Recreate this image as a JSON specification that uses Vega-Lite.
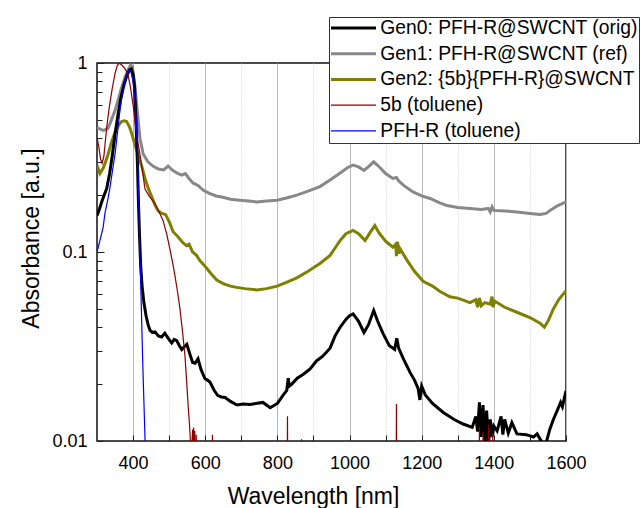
{
  "$schema": "https://vega.github.io/schema/vega-lite/v6.json",
  "autosize": "none",
  "width": 469,
  "height": 378,
  "padding": {"left": 97, "top": 63, "right": 76, "bottom": 67},
  "config": {
    "font": "Liberation Sans",
    "view": {"stroke": "#111", "strokeWidth": 1.5},
    "axis": {"domain": false, "labelFontSize": 18, "labelColor": "#000", "titleFontSize": 23, "titleColor": "#000", "titleFontWeight": "normal", "tickColor": "#222", "labelFont": "Liberation Sans", "titleFont": "Liberation Sans"}
  },
  "data": {"values": [
    {"s":"Gen1","nm":300,"a":0.457},{"s":"Gen1","nm":310,"a":0.445},{"s":"Gen1","nm":318,"a":0.44},{"s":"Gen1","nm":330,"a":0.45},{"s":"Gen1","nm":340,"a":0.5},{"s":"Gen1","nm":350,"a":0.56},{"s":"Gen1","nm":360,"a":0.65},{"s":"Gen1","nm":368,"a":0.74},{"s":"Gen1","nm":378,"a":0.84},{"s":"Gen1","nm":386,"a":0.92},{"s":"Gen1","nm":393,"a":0.975},{"s":"Gen1","nm":398,"a":0.96},{"s":"Gen1","nm":405,"a":0.76},{"s":"Gen1","nm":412,"a":0.55},{"s":"Gen1","nm":419,"a":0.4},{"s":"Gen1","nm":428,"a":0.33},{"s":"Gen1","nm":441,"a":0.3},{"s":"Gen1","nm":455,"a":0.285},{"s":"Gen1","nm":470,"a":0.275},{"s":"Gen1","nm":485,"a":0.272},{"s":"Gen1","nm":497,"a":0.285},{"s":"Gen1","nm":508,"a":0.272},{"s":"Gen1","nm":521,"a":0.262},{"s":"Gen1","nm":535,"a":0.255},{"s":"Gen1","nm":545,"a":0.26},{"s":"Gen1","nm":555,"a":0.245},{"s":"Gen1","nm":566,"a":0.232},{"s":"Gen1","nm":580,"a":0.225},{"s":"Gen1","nm":595,"a":0.212},{"s":"Gen1","nm":610,"a":0.205},{"s":"Gen1","nm":630,"a":0.198},{"s":"Gen1","nm":649,"a":0.195},{"s":"Gen1","nm":670,"a":0.19},{"s":"Gen1","nm":696,"a":0.188},{"s":"Gen1","nm":720,"a":0.186},{"s":"Gen1","nm":743,"a":0.184},{"s":"Gen1","nm":770,"a":0.186},{"s":"Gen1","nm":799,"a":0.188},{"s":"Gen1","nm":825,"a":0.193},{"s":"Gen1","nm":854,"a":0.2},{"s":"Gen1","nm":885,"a":0.21},{"s":"Gen1","nm":918,"a":0.222},{"s":"Gen1","nm":945,"a":0.24},{"s":"Gen1","nm":974,"a":0.262},{"s":"Gen1","nm":995,"a":0.28},{"s":"Gen1","nm":1010,"a":0.288},{"s":"Gen1","nm":1025,"a":0.282},{"s":"Gen1","nm":1040,"a":0.27},{"s":"Gen1","nm":1052,"a":0.282},{"s":"Gen1","nm":1067,"a":0.3},{"s":"Gen1","nm":1080,"a":0.285},{"s":"Gen1","nm":1100,"a":0.26},{"s":"Gen1","nm":1120,"a":0.245},{"s":"Gen1","nm":1130,"a":0.248},{"s":"Gen1","nm":1136,"a":0.238},{"s":"Gen1","nm":1150,"a":0.225},{"s":"Gen1","nm":1176,"a":0.208},{"s":"Gen1","nm":1200,"a":0.198},{"s":"Gen1","nm":1223,"a":0.192},{"s":"Gen1","nm":1250,"a":0.182},{"s":"Gen1","nm":1270,"a":0.176},{"s":"Gen1","nm":1300,"a":0.172},{"s":"Gen1","nm":1334,"a":0.17},{"s":"Gen1","nm":1365,"a":0.168},{"s":"Gen1","nm":1385,"a":0.17},{"s":"Gen1","nm":1390,"a":0.163},{"s":"Gen1","nm":1395,"a":0.173},{"s":"Gen1","nm":1400,"a":0.166},{"s":"Gen1","nm":1430,"a":0.165},{"s":"Gen1","nm":1464,"a":0.163},{"s":"Gen1","nm":1500,"a":0.16},{"s":"Gen1","nm":1528,"a":0.158},{"s":"Gen1","nm":1545,"a":0.16},{"s":"Gen1","nm":1556,"a":0.166},{"s":"Gen1","nm":1575,"a":0.175},{"s":"Gen1","nm":1600,"a":0.184},

    {"s":"Gen2","nm":300,"a":0.288},{"s":"Gen2","nm":308,"a":0.26},{"s":"Gen2","nm":318,"a":0.28},{"s":"Gen2","nm":330,"a":0.325},{"s":"Gen2","nm":340,"a":0.38},{"s":"Gen2","nm":350,"a":0.43},{"s":"Gen2","nm":360,"a":0.47},{"s":"Gen2","nm":368,"a":0.49},{"s":"Gen2","nm":375,"a":0.495},{"s":"Gen2","nm":382,"a":0.49},{"s":"Gen2","nm":390,"a":0.46},{"s":"Gen2","nm":396,"a":0.425},{"s":"Gen2","nm":405,"a":0.37},{"s":"Gen2","nm":414,"a":0.325},{"s":"Gen2","nm":425,"a":0.28},{"s":"Gen2","nm":433,"a":0.245},{"s":"Gen2","nm":443,"a":0.215},{"s":"Gen2","nm":452,"a":0.195},{"s":"Gen2","nm":462,"a":0.175},{"s":"Gen2","nm":470,"a":0.165},{"s":"Gen2","nm":480,"a":0.16},{"s":"Gen2","nm":490,"a":0.158},{"s":"Gen2","nm":500,"a":0.145},{"s":"Gen2","nm":511,"a":0.128},{"s":"Gen2","nm":525,"a":0.12},{"s":"Gen2","nm":538,"a":0.112},{"s":"Gen2","nm":548,"a":0.108},{"s":"Gen2","nm":555,"a":0.11},{"s":"Gen2","nm":565,"a":0.1},{"s":"Gen2","nm":576,"a":0.096},{"s":"Gen2","nm":585,"a":0.09},{"s":"Gen2","nm":595,"a":0.086},{"s":"Gen2","nm":604,"a":0.082},{"s":"Gen2","nm":618,"a":0.076},{"s":"Gen2","nm":632,"a":0.071},{"s":"Gen2","nm":650,"a":0.068},{"s":"Gen2","nm":670,"a":0.066},{"s":"Gen2","nm":687,"a":0.065},{"s":"Gen2","nm":710,"a":0.064},{"s":"Gen2","nm":743,"a":0.063},{"s":"Gen2","nm":770,"a":0.064},{"s":"Gen2","nm":799,"a":0.066},{"s":"Gen2","nm":825,"a":0.069},{"s":"Gen2","nm":854,"a":0.073},{"s":"Gen2","nm":885,"a":0.079},{"s":"Gen2","nm":918,"a":0.087},{"s":"Gen2","nm":946,"a":0.096},{"s":"Gen2","nm":960,"a":0.105},{"s":"Gen2","nm":974,"a":0.115},{"s":"Gen2","nm":990,"a":0.125},{"s":"Gen2","nm":1010,"a":0.13},{"s":"Gen2","nm":1025,"a":0.125},{"s":"Gen2","nm":1043,"a":0.115},{"s":"Gen2","nm":1055,"a":0.125},{"s":"Gen2","nm":1070,"a":0.138},{"s":"Gen2","nm":1082,"a":0.126},{"s":"Gen2","nm":1100,"a":0.114},{"s":"Gen2","nm":1120,"a":0.106},{"s":"Gen2","nm":1128,"a":0.11},{"s":"Gen2","nm":1130,"a":0.095},{"s":"Gen2","nm":1133,"a":0.113},{"s":"Gen2","nm":1137,"a":0.098},{"s":"Gen2","nm":1140,"a":0.104},{"s":"Gen2","nm":1160,"a":0.09},{"s":"Gen2","nm":1180,"a":0.079},{"s":"Gen2","nm":1204,"a":0.07},{"s":"Gen2","nm":1230,"a":0.066},{"s":"Gen2","nm":1250,"a":0.062},{"s":"Gen2","nm":1278,"a":0.058},{"s":"Gen2","nm":1300,"a":0.057},{"s":"Gen2","nm":1334,"a":0.054},{"s":"Gen2","nm":1350,"a":0.056},{"s":"Gen2","nm":1355,"a":0.051},{"s":"Gen2","nm":1360,"a":0.057},{"s":"Gen2","nm":1365,"a":0.052},{"s":"Gen2","nm":1375,"a":0.054},{"s":"Gen2","nm":1390,"a":0.053},{"s":"Gen2","nm":1395,"a":0.058},{"s":"Gen2","nm":1398,"a":0.051},{"s":"Gen2","nm":1402,"a":0.055},{"s":"Gen2","nm":1430,"a":0.051},{"s":"Gen2","nm":1464,"a":0.048},{"s":"Gen2","nm":1500,"a":0.045},{"s":"Gen2","nm":1528,"a":0.042},{"s":"Gen2","nm":1540,"a":0.04},{"s":"Gen2","nm":1550,"a":0.043},{"s":"Gen2","nm":1565,"a":0.05},{"s":"Gen2","nm":1580,"a":0.056},{"s":"Gen2","nm":1600,"a":0.0625},

    {"s":"Gen0","nm":300,"a":0.156},{"s":"Gen0","nm":305,"a":0.165},{"s":"Gen0","nm":313,"a":0.184},{"s":"Gen0","nm":320,"a":0.2},{"s":"Gen0","nm":327,"a":0.217},{"s":"Gen0","nm":335,"a":0.26},{"s":"Gen0","nm":342,"a":0.32},{"s":"Gen0","nm":350,"a":0.42},{"s":"Gen0","nm":358,"a":0.53},{"s":"Gen0","nm":366,"a":0.65},{"s":"Gen0","nm":375,"a":0.77},{"s":"Gen0","nm":383,"a":0.86},{"s":"Gen0","nm":390,"a":0.92},{"s":"Gen0","nm":395,"a":0.93},{"s":"Gen0","nm":400,"a":0.87},{"s":"Gen0","nm":404,"a":0.75},{"s":"Gen0","nm":408,"a":0.5},{"s":"Gen0","nm":412,"a":0.3},{"s":"Gen0","nm":415,"a":0.18},{"s":"Gen0","nm":418,"a":0.12},{"s":"Gen0","nm":421,"a":0.085},{"s":"Gen0","nm":425,"a":0.066},{"s":"Gen0","nm":430,"a":0.054},{"s":"Gen0","nm":436,"a":0.046},{"s":"Gen0","nm":442,"a":0.041},{"s":"Gen0","nm":447,"a":0.0385},{"s":"Gen0","nm":454,"a":0.0375},{"s":"Gen0","nm":461,"a":0.0378},{"s":"Gen0","nm":470,"a":0.036},{"s":"Gen0","nm":479,"a":0.0355},{"s":"Gen0","nm":488,"a":0.0372},{"s":"Gen0","nm":497,"a":0.035},{"s":"Gen0","nm":507,"a":0.033},{"s":"Gen0","nm":514,"a":0.0345},{"s":"Gen0","nm":521,"a":0.034},{"s":"Gen0","nm":528,"a":0.032},{"s":"Gen0","nm":535,"a":0.0305},{"s":"Gen0","nm":542,"a":0.0315},{"s":"Gen0","nm":549,"a":0.0325},{"s":"Gen0","nm":557,"a":0.029},{"s":"Gen0","nm":565,"a":0.026},{"s":"Gen0","nm":572,"a":0.0258},{"s":"Gen0","nm":580,"a":0.0272},{"s":"Gen0","nm":588,"a":0.024},{"s":"Gen0","nm":599,"a":0.0214},{"s":"Gen0","nm":606,"a":0.021},{"s":"Gen0","nm":613,"a":0.0205},{"s":"Gen0","nm":625,"a":0.0185},{"s":"Gen0","nm":635,"a":0.0174},{"s":"Gen0","nm":645,"a":0.0171},{"s":"Gen0","nm":655,"a":0.017},{"s":"Gen0","nm":670,"a":0.0162},{"s":"Gen0","nm":688,"a":0.0155},{"s":"Gen0","nm":705,"a":0.0157},{"s":"Gen0","nm":724,"a":0.0156},{"s":"Gen0","nm":740,"a":0.0158},{"s":"Gen0","nm":760,"a":0.016},{"s":"Gen0","nm":780,"a":0.015},{"s":"Gen0","nm":800,"a":0.0158},{"s":"Gen0","nm":816,"a":0.0175},{"s":"Gen0","nm":826,"a":0.0185},{"s":"Gen0","nm":830,"a":0.0215},{"s":"Gen0","nm":833,"a":0.0195},{"s":"Gen0","nm":840,"a":0.02},{"s":"Gen0","nm":855,"a":0.0215},{"s":"Gen0","nm":871,"a":0.0225},{"s":"Gen0","nm":890,"a":0.024},{"s":"Gen0","nm":909,"a":0.0266},{"s":"Gen0","nm":925,"a":0.028},{"s":"Gen0","nm":946,"a":0.031},{"s":"Gen0","nm":960,"a":0.036},{"s":"Gen0","nm":974,"a":0.04},{"s":"Gen0","nm":990,"a":0.044},{"s":"Gen0","nm":1000,"a":0.046},{"s":"Gen0","nm":1010,"a":0.047},{"s":"Gen0","nm":1025,"a":0.043},{"s":"Gen0","nm":1040,"a":0.0375},{"s":"Gen0","nm":1052,"a":0.041},{"s":"Gen0","nm":1067,"a":0.049},{"s":"Gen0","nm":1078,"a":0.043},{"s":"Gen0","nm":1093,"a":0.037},{"s":"Gen0","nm":1110,"a":0.032},{"s":"Gen0","nm":1125,"a":0.0305},{"s":"Gen0","nm":1131,"a":0.035},{"s":"Gen0","nm":1136,"a":0.031},{"s":"Gen0","nm":1150,"a":0.027},{"s":"Gen0","nm":1168,"a":0.023},{"s":"Gen0","nm":1180,"a":0.021},{"s":"Gen0","nm":1190,"a":0.019},{"s":"Gen0","nm":1195,"a":0.0165},{"s":"Gen0","nm":1200,"a":0.0195},{"s":"Gen0","nm":1210,"a":0.0175},{"s":"Gen0","nm":1230,"a":0.0158},{"s":"Gen0","nm":1259,"a":0.0142},{"s":"Gen0","nm":1290,"a":0.013},{"s":"Gen0","nm":1315,"a":0.0123},{"s":"Gen0","nm":1340,"a":0.0118},{"s":"Gen0","nm":1350,"a":0.0135},{"s":"Gen0","nm":1355,"a":0.0112},{"s":"Gen0","nm":1360,"a":0.016},{"s":"Gen0","nm":1365,"a":0.0105},{"s":"Gen0","nm":1370,"a":0.0155},{"s":"Gen0","nm":1375,"a":0.0098},{"s":"Gen0","nm":1380,"a":0.0145},{"s":"Gen0","nm":1385,"a":0.0095},{"s":"Gen0","nm":1390,"a":0.013},{"s":"Gen0","nm":1395,"a":0.0105},{"s":"Gen0","nm":1400,"a":0.012},{"s":"Gen0","nm":1409,"a":0.0113},{"s":"Gen0","nm":1420,"a":0.0135},{"s":"Gen0","nm":1425,"a":0.0108},{"s":"Gen0","nm":1430,"a":0.013},{"s":"Gen0","nm":1440,"a":0.011},{"s":"Gen0","nm":1450,"a":0.0125},{"s":"Gen0","nm":1464,"a":0.0109},{"s":"Gen0","nm":1490,"a":0.0108},{"s":"Gen0","nm":1510,"a":0.0105},{"s":"Gen0","nm":1520,"a":0.0109},{"s":"Gen0","nm":1530,"a":0.0101},{"s":"Gen0","nm":1536,"a":0.0095},{"s":"Gen0","nm":1545,"a":0.0098},{"s":"Gen0","nm":1555,"a":0.0115},{"s":"Gen0","nm":1565,"a":0.013},{"s":"Gen0","nm":1575,"a":0.0144},{"s":"Gen0","nm":1585,"a":0.016},{"s":"Gen0","nm":1590,"a":0.0152},{"s":"Gen0","nm":1600,"a":0.0184},

    {"s":"5b","nm":300,"a":0.406},{"s":"5b","nm":305,"a":0.36},{"s":"5b","nm":310,"a":0.31},{"s":"5b","nm":314,"a":0.295},{"s":"5b","nm":319,"a":0.32},{"s":"5b","nm":327,"a":0.46},{"s":"5b","nm":335,"a":0.6},{"s":"5b","nm":342,"a":0.73},{"s":"5b","nm":350,"a":0.88},{"s":"5b","nm":356,"a":0.97},{"s":"5b","nm":362,"a":1.0},{"s":"5b","nm":370,"a":0.97},{"s":"5b","nm":378,"a":0.93},{"s":"5b","nm":385,"a":0.88},{"s":"5b","nm":392,"a":0.76},{"s":"5b","nm":400,"a":0.6},{"s":"5b","nm":405,"a":0.5},{"s":"5b","nm":410,"a":0.41},{"s":"5b","nm":419,"a":0.33},{"s":"5b","nm":427,"a":0.26},{"s":"5b","nm":433,"a":0.215},{"s":"5b","nm":445,"a":0.197},{"s":"5b","nm":461,"a":0.18},{"s":"5b","nm":472,"a":0.163},{"s":"5b","nm":483,"a":0.147},{"s":"5b","nm":493,"a":0.125},{"s":"5b","nm":502,"a":0.104},{"s":"5b","nm":510,"a":0.087},{"s":"5b","nm":516,"a":0.075},{"s":"5b","nm":523,"a":0.062},{"s":"5b","nm":530,"a":0.05},{"s":"5b","nm":537,"a":0.038},{"s":"5b","nm":544,"a":0.028},{"s":"5b","nm":549,"a":0.02},{"s":"5b","nm":553,"a":0.015},{"s":"5b","nm":556,"a":0.0125},{"s":"5b","nm":558,"a":0.0108},{"s":"5b","nm":561,"a":0.008},{"s":"5b","nm":565,"a":0.0115},{"s":"5b","nm":566,"a":0.005},{"s":"5b","nm":568,"a":0.0118},{"s":"5b","nm":569,"a":0.005},{"s":"5b","nm":571,"a":0.0113},{"s":"5b","nm":572,"a":0.005},{"s":"5b","nm":575,"a":0.0108},{"s":"5b","nm":576,"a":0.005},{"s":"5b","nm":619,"a":0.005},{"s":"5b","nm":620,"a":0.0108},{"s":"5b","nm":621,"a":0.005},{"s":"5b","nm":827,"a":0.005},{"s":"5b","nm":828,"a":0.0135},{"s":"5b","nm":829,"a":0.005},{"s":"5b","nm":866,"a":0.005},{"s":"5b","nm":867,"a":0.0102},{"s":"5b","nm":868,"a":0.005},{"s":"5b","nm":1129,"a":0.005},{"s":"5b","nm":1130,"a":0.0157},{"s":"5b","nm":1131,"a":0.005},{"s":"5b","nm":1359,"a":0.005},{"s":"5b","nm":1360,"a":0.0118},{"s":"5b","nm":1361,"a":0.005},{"s":"5b","nm":1369,"a":0.005},{"s":"5b","nm":1370,"a":0.0112},{"s":"5b","nm":1371,"a":0.005},{"s":"5b","nm":1384,"a":0.005},{"s":"5b","nm":1385,"a":0.0122},{"s":"5b","nm":1386,"a":0.005},{"s":"5b","nm":1396,"a":0.005},{"s":"5b","nm":1397,"a":0.011},{"s":"5b","nm":1398,"a":0.005},{"s":"5b","nm":1600,"a":0.005},

    {"s":"PFH-R","nm":300,"a":0.1},{"s":"PFH-R","nm":308,"a":0.115},{"s":"PFH-R","nm":317,"a":0.135},{"s":"PFH-R","nm":322,"a":0.16},{"s":"PFH-R","nm":330,"a":0.19},{"s":"PFH-R","nm":336,"a":0.22},{"s":"PFH-R","nm":343,"a":0.27},{"s":"PFH-R","nm":350,"a":0.33},{"s":"PFH-R","nm":357,"a":0.43},{"s":"PFH-R","nm":364,"a":0.57},{"s":"PFH-R","nm":370,"a":0.68},{"s":"PFH-R","nm":378,"a":0.81},{"s":"PFH-R","nm":384,"a":0.88},{"s":"PFH-R","nm":389,"a":0.92},{"s":"PFH-R","nm":394,"a":0.9},{"s":"PFH-R","nm":400,"a":0.8},{"s":"PFH-R","nm":405,"a":0.65},{"s":"PFH-R","nm":410,"a":0.45},{"s":"PFH-R","nm":414,"a":0.25},{"s":"PFH-R","nm":419,"a":0.1},{"s":"PFH-R","nm":423,"a":0.05},{"s":"PFH-R","nm":427,"a":0.025},{"s":"PFH-R","nm":431,"a":0.014},{"s":"PFH-R","nm":434,"a":0.009},{"s":"PFH-R","nm":440,"a":0.004}
  ]},
  "mark": {"type": "line", "clip": true},
  "encoding": {
    "x": {"field": "nm", "type": "quantitative", "title": "Wavelength [nm]",
      "scale": {"domain": [300, 1600], "nice": false, "zero": false},
      "axis": {"values": [400,500,600,700,800,900,1000,1100,1200,1300,1400,1500,1600],
        "labelExpr": "datum.value % 200 == 0 ? '' + datum.value : ''",
        "grid": true,
        "gridColor": {"condition": {"test": "datum.value % 200 != 0", "value": "#d0d0d0"}, "value": "#b8b8b8"},
        "gridDash": {"condition": {"test": "datum.value % 200 != 0", "value": [1, 2]}, "value": []},
        "tickSize": -6, "labelPadding": 19, "labelFlush": false,
        "titleX": 216, "titleY": 62, "titleBaseline": "alphabetic", "titleAnchor": null}},
    "y": {"field": "a", "type": "quantitative", "title": "Absorbance [a.u.]",
      "scale": {"type": "log", "domain": [0.01, 1], "nice": false},
      "axis": {"values": [0.01,0.02,0.03,0.04,0.05,0.06,0.07,0.08,0.09,0.1,0.2,0.3,0.4,0.5,0.6,0.7,0.8,0.9,1],
        "labelExpr": "datum.value == 1 ? '1' : datum.value == 0.1 ? '0.1' : datum.value == 0.01 ? '0.01' : ''",
        "grid": false,
        "tickSize": {"condition": {"test": "datum.value == 1 || datum.value == 0.1 || datum.value == 0.01", "value": -7}, "value": -5},
        "labelPadding": 17, "labelFlush": false,
        "titleX": -59, "titleY": 175, "titleAngle": 270, "titleBaseline": "alphabetic", "titleAlign": "center"}},
    "color": {"field": "s", "type": "nominal",
      "scale": {"domain": ["Gen0","Gen1","Gen2","5b","PFH-R"], "range": ["#000000","#888888","#808000","#8b0000","#0000ff"]},
      "legend": {"orient": "none", "legendX": 232, "legendY": -46, "title": null,
        "labelExpr": "datum.value == 'Gen0' ? 'Gen0: PFH-R@SWCNT (orig)' : datum.value == 'Gen1' ? 'Gen1: PFH-R@SWCNT (ref)' : datum.value == 'Gen2' ? 'Gen2: {5b}{PFH-R}@SWCNT' : datum.value == '5b' ? '5b (toluene)' : 'PFH-R (toluene)'",
        "padding": 1, "strokeColor": "#333", "fillColor": "white",
        "symbolType": "stroke", "symbolSize": 2025, "clipHeight": 20, "labelFontSize": 19.3, "labelColor": "#000",
        "labelLimit": 0, "labelOffset": 31, "rowPadding": 4.7,
        "encode": {"symbols": {"update": {"x": {"value": 23.5}, "strokeWidth": {"signal": "indexof(['5b','PFH-R'], datum.value) >= 0 ? 1.2 : 3"}}}}}},
    "strokeWidth": {"condition": {"test": "datum.s == '5b' || datum.s == 'PFH-R'", "value": 1.2}, "value": 3}
  }
}
